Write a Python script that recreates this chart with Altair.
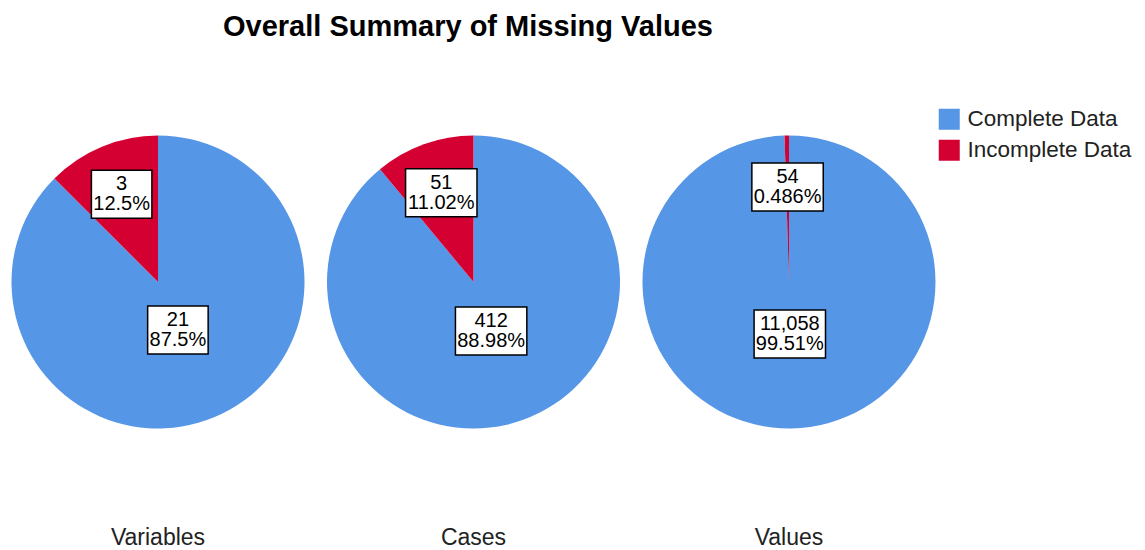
import altair as alt
import pandas as pd

# ---- data ----
groups = ["Variables", "Cases", "Values"]
statuses = ["Complete Data", "Incomplete Data"]
complete_counts = [21, 412, 11058]
incomplete_counts = [3, 51, 54]

colors = ["#5596E6", "#D50032"]
FONT = "Liberation Sans"

rows = []
for g, c, i in zip(groups, complete_counts, incomplete_counts):
    rows.append({"group": g, "status": statuses[0], "count": c, "order": 0})
    rows.append({"group": g, "status": statuses[1], "count": i, "order": 1})
df = pd.DataFrame(rows)

W, H = 300, 300
R = 146.5

xs = alt.Scale(domain=[-W / 2, W / 2])
ys = alt.Scale(domain=[-H / 2, H / 2])

arcs = alt.Chart().mark_arc(outerRadius=R).encode(
    theta=alt.Theta("t0:Q", scale=None),
    theta2="t1:Q",
    color=alt.Color(
        "status:N",
        scale=alt.Scale(domain=statuses, range=colors),
        legend=alt.Legend(
            title=None, orient="none", legendX=930, legendY=-24,
            symbolType="square", symbolSize=441, symbolStrokeWidth=0,
            labelFontSize=22.5, labelFont=FONT, labelColor="#222", labelLimit=0,
            rowPadding=8, labelOffset=7, padding=0,
        ),
    ),
)

boxes = alt.Chart().mark_rect(fill="white", stroke="black", strokeWidth=1.5).encode(
    x=alt.X("bx0:Q", scale=xs, axis=None),
    x2="bx1:Q",
    y=alt.Y("by0:Q", scale=ys, axis=None),
    y2="by1:Q",
)

texts = alt.Chart().mark_text(
    fontSize=20, lineHeight=20, font=FONT, color="black", lineBreak="\n",
    baseline="middle", align="center", dy=-10,
).encode(
    x=alt.X("lx:Q", scale=xs, axis=None),
    y=alt.Y("ly:Q", scale=ys, axis=None),
    text="label:N",
)

layered = alt.layer(arcs, boxes, texts, data=df).transform_joinaggregate(
    total="sum(count)", groupby=["group"]
).transform_window(
    cum="sum(count)", groupby=["group"], sort=[alt.SortField("order")], frame=[None, 0]
).transform_calculate(
    t0="2*PI*(datum.cum-datum.count)/datum.total",
    t1="2*PI*datum.cum/datum.total",
).transform_calculate(
    mid="(datum.t0+datum.t1)/2",
    lr="datum.status == 'Incomplete Data' ? 95 : 52",
    line1="format(datum.count, ',')",
    line2="format(100*datum.count/datum.total, '.4~r') + '%'",
).transform_calculate(
    lx="datum.lr*sin(datum.mid)",
    ly="datum.lr*cos(datum.mid)",
    label="datum.line1 + '\\n' + datum.line2",
    hw="(max(length(datum.line1), length(datum.line2))*10.9 + 6)/2",
).transform_calculate(
    bx0="datum.lx - datum.hw",
    bx1="datum.lx + datum.hw",
    by0="datum.ly - 24",
    by1="datum.ly + 24",
).properties(width=W, height=H)

chart = layered.facet(
    column=alt.Column(
        "group:N", sort=groups,
        header=alt.Header(
            title=None, labelOrient="bottom", labelFontSize=23, labelFont=FONT,
            labelColor="#222", labelPadding=95,
        ),
    ),
    spacing=15.5,
    title=alt.TitleParams(
        "Overall Summary of Missing Values", fontSize=29, font=FONT,
        fontWeight="bold", color="black", offset=66, anchor="middle", dx=-102,
    ),
).configure_view(stroke=None).properties(
    padding={"left": 0, "top": 5, "right": 0, "bottom": 0}
)

chart.save("out.html", embed_options={"renderer": "svg", "actions": False})
